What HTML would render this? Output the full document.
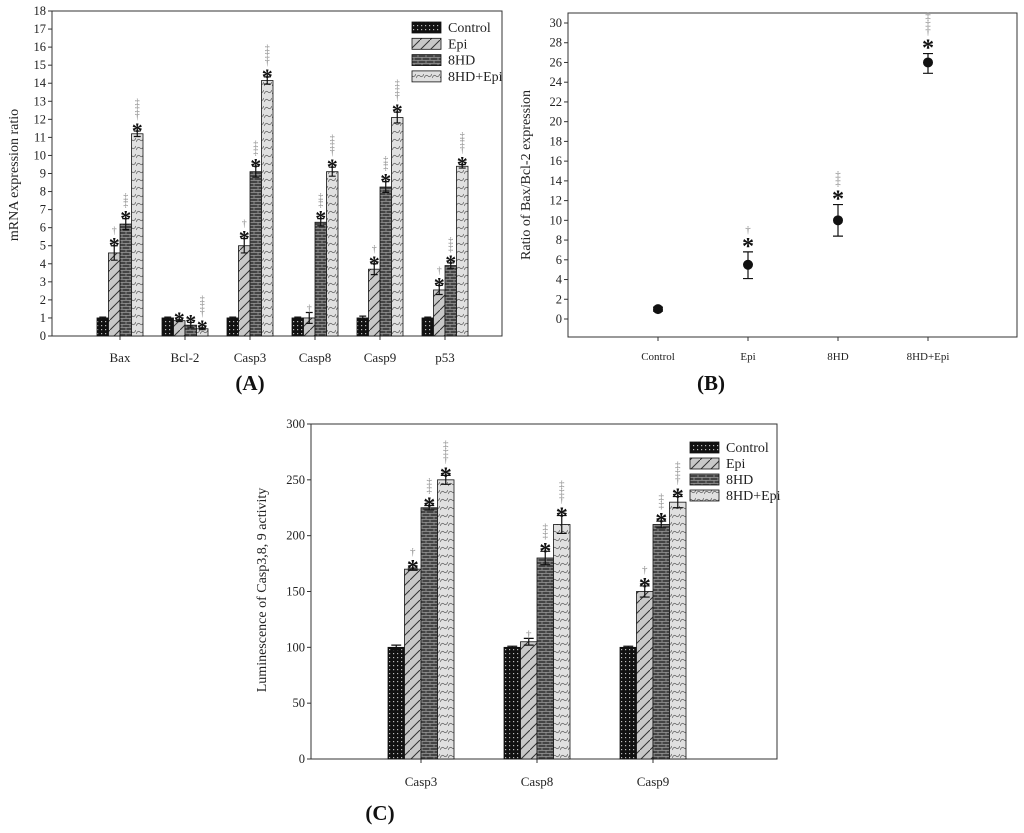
<!DOCTYPE html>
<html><head><meta charset="utf-8">
<style>
html,body{margin:0;padding:0;background:#fff;}
svg{display:block;font-family:"Liberation Serif",serif;}
</style></head>
<body>
<svg id="fig" width="1024" height="833" viewBox="0 0 1024 833" xmlns="http://www.w3.org/2000/svg">
<defs>
 <pattern id="pCtrl" width="4" height="4" patternUnits="userSpaceOnUse"><rect width="4" height="4" fill="#111"/><rect x="1" y="1" width="1.2" height="1.2" fill="#bbb"/></pattern>
 <pattern id="pEpi" width="10" height="10" patternUnits="userSpaceOnUse"><rect width="10" height="10" fill="#c8c8c8"/><path d="M0 10 L10 0" stroke="#333" stroke-width="1"/></pattern>
 <pattern id="pHD" width="8" height="6" patternUnits="userSpaceOnUse"><rect width="8" height="6" fill="#444"/><path d="M0 0.5 H8 M0 3.5 H8 M2 0 V3 M6 3 V6" stroke="#999" stroke-width="0.8"/></pattern>
 <pattern id="pCombo" width="8" height="8" patternUnits="userSpaceOnUse"><rect width="8" height="8" fill="#e0e0e0"/><path d="M0 6 Q2 2 4 4 T8 2" stroke="#666" fill="none" stroke-width="0.8"/></pattern>
</defs>
</svg>
<script>
// ---------- Panel A data ----------
const catsA = ["Bax","Bcl-2","Casp3","Casp8","Casp9","p53"];
const seriesNames = ["Control","Epi","8HD","8HD+Epi"];
const aControl = [1,1,1,1,1,1];
const aEpi = [4.6,0.85,5.0,1.0,3.7,2.55];
const aHD = [6.2,0.6,9.1,6.3,8.25,3.9];
const aCombo = [11.2,0.4,14.15,9.1,12.1,9.4];
const aErrControl = [0.05,0.05,0.05,0.05,0.1,0.05];
const aErrEpi = [0.4,0.05,0.4,0.3,0.3,0.25];
const aErrHD = [0.3,0.15,0.3,0.2,0.3,0.15];
const aErrCombo = [0.15,0.05,0.2,0.25,0.3,0.1];
const aMarksEpi = ["*†","*","*†","†","*†","*†"];
const aMarksHD = ["*‡‡","*","*‡‡","*‡‡","*‡‡","*‡‡"];
const aMarksCombo = ["*†‡‡","*†‡‡","*†‡‡","*†‡‡","*†‡‡","*†‡‡"];
const ticksA = [0,1,2,3,4,5,6,7,8,9,10,11,12,13,14,15,16,17,18];
// ---------- Panel B data ----------
const catsB = ["Control","Epi","8HD","8HD+Epi"];
const bValues = [1,5.5,10,26];
const bErrUp = [0.2,1.3,1.6,0.9];
const bErrDown = [0.2,1.4,1.6,1.1];
const bMarks = ["","*†","*‡‡","*†‡‡"];
const ticksB = [0,2,4,6,8,10,12,14,16,18,20,22,24,26,28,30];
// ---------- Panel C data ----------
const catsC = ["Casp3","Casp8","Casp9"];
const cControl = [100,100,100];
const cEpi = [170,105,150];
const cHD = [225,180,210];
const cCombo = [250,210,230];
const cErrControl = [2,1,1];
const cErrEpi = [1,3,5];
const cErrHD = [2,6,3];
const cErrCombo = [4,8,5];
const cMarksEpi = ["*†","†","*†"];
const cMarksHD = ["*‡‡","*‡‡","*‡‡"];
const cMarksCombo = ["*†‡‡","*†‡‡","*†‡‡"];
const ticksC = [0,50,100,150,200,250,300];

const NS="http://www.w3.org/2000/svg";
const svg=document.getElementById('fig');
const fills=["url(#pCtrl)","url(#pEpi)","url(#pHD)","url(#pCombo)"];
function el(tag,attrs,parent,text){const e=document.createElementNS(NS,tag);for(const k in attrs)e.setAttribute(k,attrs[k]);if(text!==undefined)e.textContent=text;(parent||svg).appendChild(e);return e;}
function grp(name){const g=el('g',{});return g;}

function marks(g,x,yTop,str,scale){
  let y=yTop-2; // current bottom
  for(const ch of str){
    if(ch==='*'){
      const t=el('text',{x:x,y:y+9*scale,'text-anchor':'middle','font-size':22*scale,'font-weight':'bold',fill:'#111'},g,'*');
      
      
      y-=11*scale;
    } else {
      const t=el('text',{x:x,y:y+1,'text-anchor':'middle','font-size':10*scale,fill:'#888'},g,ch);
      
      
      y-=6.8*scale;
    }
  }
}
function errbar(g,x,y1,y2,w){
  el('path',{d:`M${x} ${y1} V${y2} M${x-w} ${y1} H${x+w} M${x-w} ${y2} H${x+w}`,stroke:'#111','stroke-width':1.2,fill:'none'},g);
}
function axisY(g,x,ticks,yf,fs){
  ticks.forEach(v=>{const y=yf(v);el('line',{x1:x-4,x2:x,y1:y,y2:y,stroke:'#333'},g);
    const t=el('text',{x:x-6,y:y+4,'text-anchor':'end','font-size':fs,fill:'#222'},g,v);
    
    });
}
function legend(g,x,y0,dy){
  seriesNames.forEach((n,i)=>{const y=y0+dy*i;
    const r=el('rect',{x:x,y:y-6,width:29,height:11,fill:fills[i],stroke:'#111','stroke-width':0.8},g);
    
    
    const t=el('text',{x:x+36,y:y+4,'font-size':14,fill:'#222'},g,n);
    
    });
}
function bars(g,cats,series,errs,mk,cx,bw,yf,scale){
  cats.forEach((c,ci)=>{
    series.forEach((s,si)=>{
      const x=cx(ci)-2*bw+si*bw; const v=s[ci];
      const r=el('rect',{x:x,y:yf(v),width:bw,height:yf(0)-yf(v),fill:fills[si],stroke:'#111','stroke-width':0.8},g);
      
      
      const e=errs[si][ci];
      errbar(g,x+bw/2,yf(v+e),yf(Math.max(0,v-e)),bw*0.3);
      if(mk[si]) marks(g,x+bw/2,yf(v+e),mk[si][ci],scale);
    });
  });
}

// ===== Panel A =====
(function(){
 const g=grp('panel-a');
 const L=52,R=502,T=11,B=336;
 const yf=v=>B-(v/18)*(B-T);
 const cx=i=>120+65*i;
 el('rect',{x:L,y:T,width:R-L,height:B-T,fill:'none',stroke:'#333','stroke-width':1},g);
 axisY(g,L,ticksA,yf,12.5);
 catsA.forEach((c,i)=>{el('line',{x1:cx(i),x2:cx(i),y1:B,y2:B+4,stroke:'#333'},g);
   const t=el('text',{x:cx(i),y:362,'text-anchor':'middle','font-size':13,fill:'#222'},g,c);
   
   });
 const yt=el('text',{x:0,y:0,transform:'translate(18,175) rotate(-90)','text-anchor':'middle','font-size':14,fill:'#222'},g,'mRNA expression ratio');
 
 
 bars(g,catsA,[aControl,aEpi,aHD,aCombo],[aErrControl,aErrEpi,aErrHD,aErrCombo],[null,aMarksEpi,aMarksHD,aMarksCombo],cx,11.5,yf,1);
 const lg=grp('legend-a');legend(lg,412,28,16.3);
 const cap=el('text',{x:250,y:390,'text-anchor':'middle','font-size':21,'font-weight':'bold',fill:'#111'},g,'(A)');
 
 
})();

// ===== Panel B =====
(function(){
 const g=grp('panel-b');
 const L=568,R=1017,T=13,B=337;
 const yf=v=>319-(v/30)*(319-23);
 const cx=i=>658+90*i;
 el('rect',{x:L,y:T,width:R-L,height:B-T,fill:'none',stroke:'#333','stroke-width':1},g);
 axisY(g,L,ticksB,yf,12.5);
 catsB.forEach((c,i)=>{el('line',{x1:cx(i),x2:cx(i),y1:B,y2:B+4,stroke:'#333'},g);
   const t=el('text',{x:cx(i),y:360,'text-anchor':'middle','font-size':11,fill:'#222'},g,c);
   
   });
 const yt=el('text',{x:0,y:0,transform:'translate(530,175) rotate(-90)','text-anchor':'middle','font-size':14,fill:'#222'},g,'Ratio of Bax/Bcl-2 expression');
 
 
 bValues.forEach((v,i)=>{
   errbar(g,cx(i),yf(v+bErrUp[i]),yf(v-bErrDown[i]),5);
   const c=el('circle',{cx:cx(i),cy:yf(v),r:5,fill:'#111'},g);
   
   
   if(bMarks[i]) marks(g,cx(i),yf(v+bErrUp[i])-6,bMarks[i],1.1);
 });
 const cap=el('text',{x:711,y:390,'text-anchor':'middle','font-size':21,'font-weight':'bold',fill:'#111'},g,'(B)');
 
 
})();

// ===== Panel C =====
(function(){
 const g=grp('panel-c');
 const L=311,R=777,T=424,B=759;
 const yf=v=>B-(v/300)*(B-T);
 const cx=i=>421+116*i;
 el('rect',{x:L,y:T,width:R-L,height:B-T,fill:'none',stroke:'#333','stroke-width':1},g);
 axisY(g,L,ticksC,yf,12.5);
 catsC.forEach((c,i)=>{el('line',{x1:cx(i),x2:cx(i),y1:B,y2:B+4,stroke:'#333'},g);
   const t=el('text',{x:cx(i),y:786,'text-anchor':'middle','font-size':13,fill:'#222'},g,c);
   
   });
 const yt=el('text',{x:0,y:0,transform:'translate(266,590) rotate(-90)','text-anchor':'middle','font-size':14,fill:'#222'},g,'Luminescence of Casp3,8, 9 activity');
 
 
 bars(g,catsC,[cControl,cEpi,cHD,cCombo],[cErrControl,cErrEpi,cErrHD,cErrCombo],[null,cMarksEpi,cMarksHD,cMarksCombo],cx,16.5,yf,1.1);
 const lg=grp('legend-c');legend(lg,690,448,16);
 const cap=el('text',{x:380,y:820,'text-anchor':'middle','font-size':21,'font-weight':'bold',fill:'#111'},g,'(C)');
 
 
})();
</script>
</body></html>
